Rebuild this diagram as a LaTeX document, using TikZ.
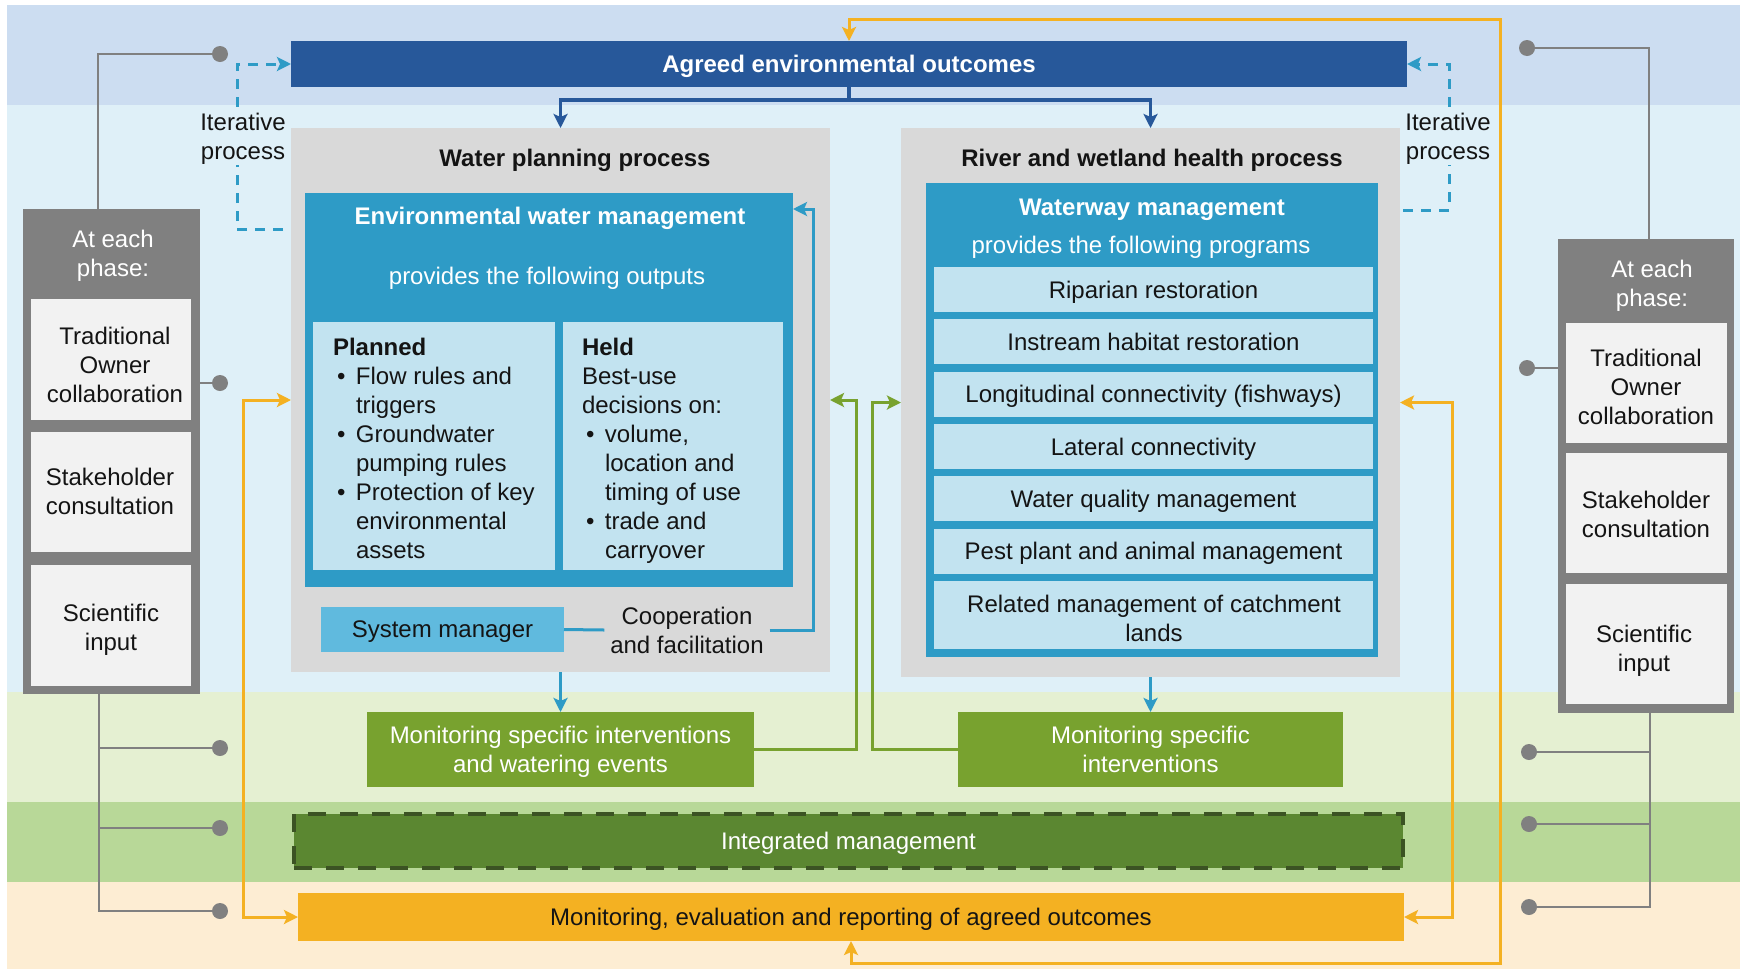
\documentclass[tikz,border=0pt]{standalone}
\usepackage{fontspec}
\setmainfont{Liberation Sans}
\usetikzlibrary{arrows.meta}
\definecolor{bandA}{RGB}{204,221,241}
\definecolor{bandB}{RGB}{223,240,248}
\definecolor{bandC}{RGB}{229,240,210}
\definecolor{bandD}{RGB}{184,216,152}
\definecolor{bandE}{RGB}{253,237,211}
\definecolor{navyb}{RGB}{39,88,154}
\definecolor{tealb}{RGB}{46,155,198}
\definecolor{paleb}{RGB}{194,227,240}
\definecolor{sysb}{RGB}{96,186,222}
\definecolor{lgrayb}{RGB}{217,217,217}
\definecolor{mgrayb}{RGB}{128,128,128}
\definecolor{wgrayb}{RGB}{242,242,242}
\definecolor{orngb}{RGB}{244,177,34}
\definecolor{grnb}{RGB}{120,162,47}
\definecolor{dgrnb}{RGB}{91,135,49}
\definecolor{edgegrn}{RGB}{59,83,35}
\definecolor{ink}{RGB}{20,20,20}
\begin{document}
\begin{tikzpicture}[x=1pt,y=-1pt,
  every node/.style={font=\fontsize{24}{29}\selectfont, text=ink, inner sep=0pt, outer sep=0pt, text depth=0pt},
  bf/.style={font=\fontsize{24}{29}\selectfont\bfseries},
  fillbox/.style={rectangle, align=center},
  navybar/.style={fillbox, fill=navyb, text=white, bf},
  procbox/.style={fillbox, fill=lgrayb},
  tealbox/.style={fillbox, fill=tealb},
  rowbox/.style={fillbox, fill=paleb, minimum width=439pt},
  sysbox/.style={fillbox, fill=sysb},
  phasecol/.style={fillbox, fill=mgrayb},
  phasebox/.style={fillbox, fill=wgrayb, minimum width=160pt, minimum height=120pt},
  greenbox/.style={fillbox, fill=grnb, text=white, minimum height=75pt},
  intbox/.style={fillbox, fill=dgrnb, text=white, draw=edgegrn, line width=4pt, dash pattern=on 18pt off 14pt},
  orbox/.style={fillbox, fill=orngb},
  dot/.style={circle, fill=mgrayb, minimum size=16pt},
  gline/.style={draw=mgrayb, line width=2.5pt},
  tline/.style={draw=tealb, line width=3pt},
  oline/.style={draw=orngb, line width=3pt},
  gnline/.style={draw=grnb, line width=3pt},
  nline/.style={draw=navyb, line width=3.5pt},
  itline/.style={draw=tealb, line width=3pt, dash pattern=on 10pt off 8pt},
  arr/.style={-{Stealth[length=14pt,width=14pt,inset=3pt]}},
  arrs/.style={{Stealth[length=14pt,width=14pt,inset=3pt]}-{Stealth[length=14pt,width=14pt,inset=3pt]}}
]
\useasboundingbox (0,0) rectangle (1740,970);
\fill[white] (0,0) rectangle (1740,970);
% bands
\fill[bandA] (7,5) rectangle (1740,105);
\fill[bandB] (7,105) rectangle (1740,692);
\fill[bandC] (7,692) rectangle (1740,802);
\fill[bandD] (7,802) rectangle (1740,882);
\fill[bandE] (7,882) rectangle (1740,969);

% top bar
\node[navybar, minimum width=1116pt, minimum height=46pt] (top) at (849,64) {Agreed environmental outcomes};

% process boxes
\node[procbox, minimum width=539pt, minimum height=544pt] (wpp) at (560.5,400) {};
\node[bf] (wppT) at (575,158) {Water planning process};
\node[procbox, minimum width=499pt, minimum height=549pt] (rwh) at (1150.5,402.5) {};
\node[bf] (rwhT) at (1152,158) {River and wetland health process};

% environmental water management
\node[tealbox, minimum width=488pt, minimum height=394pt] (ewm) at (549,390) {};
\node[bf, text=white] (ewmT) at (550,216) {Environmental water management};
\node[text=white] (ewmS) at (547,276) {provides the following outputs};
\node[fill=paleb, minimum width=242pt, minimum height=248pt] (pl) at (434,446) {};
\node[fill=paleb, minimum width=220pt, minimum height=248pt] (hd) at (673,446) {};
\node[anchor=north west, align=left] (plT) at (333,338) {\textbf{Planned}\\
\makebox[23pt][l]{\hspace{4pt}\textbullet}Flow rules and\\
\hspace*{23pt}triggers\\
\makebox[23pt][l]{\hspace{4pt}\textbullet}Groundwater\\
\hspace*{23pt}pumping rules\\
\makebox[23pt][l]{\hspace{4pt}\textbullet}Protection of key\\
\hspace*{23pt}environmental\\
\hspace*{23pt}assets};
\node[anchor=north west, align=left] (hdT) at (582,338) {\textbf{Held}\\
Best-use\\
decisions on:\\
\makebox[23pt][l]{\hspace{4pt}\textbullet}volume,\\
\hspace*{23pt}location and\\
\hspace*{23pt}timing of use\\
\makebox[23pt][l]{\hspace{4pt}\textbullet}trade and\\
\hspace*{23pt}carryover};
\node[sysbox, minimum width=243pt, minimum height=45pt] (sys) at (442.5,629.5) {System manager};
\node[align=center, inner xsep=6pt] (coop) at (687,630) {Cooperation\\and facilitation};

% waterway management
\node[tealbox, minimum width=452pt, minimum height=474pt] (wwm) at (1152,420) {};
\node[bf, text=white] (wwmT) at (1152,207) {Waterway management};
\node[text=white] (wwmS) at (1141,245) {provides the following programs};
\node[rowbox, minimum height=45pt] (r1) at (1153.5,289.5) {Riparian restoration};
\node[rowbox, minimum height=45pt] (r2) at (1153.5,341.8) {Instream habitat restoration};
\node[rowbox, minimum height=45pt] (r3) at (1153.5,394.2) {Longitudinal connectivity (fishways)};
\node[rowbox, minimum height=45pt] (r4) at (1153.5,446.5) {Lateral connectivity};
\node[rowbox, minimum height=45pt] (r5) at (1153.5,498.8) {Water quality management};
\node[rowbox, minimum height=45pt] (r6) at (1153.5,551.2) {Pest plant and animal management};
\node[rowbox, minimum height=68pt] (r7) at (1153.5,615) {};
\node[align=center] (r7t) at (1154,618.5) {Related management of catchment\\lands};

% left phase column
\node[phasecol, minimum width=177pt, minimum height=485pt] (lcol) at (111.5,451.5) {};
\node[text=white, align=center] (lhd) at (113,253.5) {At each\\phase:};
\node[phasebox, minimum height=121pt] (lT) at (111,359.5) {};
\node[phasebox] (lS) at (111,492) {};
\node[phasebox, minimum height=121pt] (lSc) at (111,625.5) {};
\node[align=center] (lTt) at (115,365) {Traditional\\Owner\\collaboration};
\node[align=center] (lSt) at (110,491.5) {Stakeholder\\consultation};
\node[align=center] (lSct) at (111,627.5) {Scientific\\input};

% right phase column
\node[phasecol, minimum width=176pt, minimum height=474pt] (rcol) at (1646,476) {};
\node[text=white, align=center] (rhd) at (1652,283) {At each\\phase:};
\node[phasebox, minimum width=161pt] (rT) at (1646.5,383) {};
\node[phasebox, minimum width=161pt] (rS) at (1646.5,513) {};
\node[phasebox, minimum width=161pt] (rSc) at (1646.5,644) {};
\node[align=center] (rTt) at (1646,386.5) {Traditional\\Owner\\collaboration};
\node[align=center] (rSt) at (1646,514) {Stakeholder\\consultation};
\node[align=center] (rSct) at (1644,648.5) {Scientific\\input};

% lower boxes
\node[greenbox, minimum width=387pt] (gL) at (560.5,749.5) {Monitoring specific interventions\\and watering events};
\node[greenbox, minimum width=385pt] (gR) at (1150.5,749.5) {Monitoring specific\\interventions};
\node[intbox, minimum width=1109pt, minimum height=54pt] (int) at (848.5,841) {Integrated management};
\node[orbox, minimum width=1106pt, minimum height=48pt] (obar) at (851,917) {Monitoring, evaluation and reporting of agreed outcomes};

% iterative labels
\node[align=center, inner ysep=6pt] (itL) at (243,136) {Iterative\\process};
\node[align=center, inner ysep=6pt] (itR) at (1448,136) {Iterative\\process};

% dots
\node[dot] (dL1) at (220,54) {};
\node[dot] (dL2) at (220,383) {};
\node[dot] (dL3) at (220,748) {};
\node[dot] (dL4) at (220,828) {};
\node[dot] (dL5) at (220,911) {};
\node[dot] (dR1) at (1527,48) {};
\node[dot] (dR2) at (1527,368) {};
\node[dot] (dR3) at (1529,752) {};
\node[dot] (dR4) at (1529,824) {};
\node[dot] (dR5) at (1529,907) {};

% navy arrows
\coordinate (nj) at (849,100);
\draw[nline, arr] (top.south) -- (nj) -| (wpp.north);
\draw[nline, arr] (nj) -| (rwh.north);

% orange loop
\coordinate (oTR) at (1500,19);
\coordinate (oBR) at (1500,963);
\draw[oline, arrs] (top.north) |- (oTR) -- (oBR) -| (obar.south);
\coordinate (oL) at (243,400);
\draw[oline, arrs] (wpp.west) -- (oL) |- (obar.west);
\coordinate (oR) at (1452,402.5);
\draw[oline, arrs] (rwh.east) -- (oR) |- (obar.east);

% iterative dashed
\coordinate (itLs) at (283,229);
\coordinate (itLc) at (237,229);
\draw[itline] (itLs) -- (itLc) -- (itLc |- itL.south);
\draw[itline, arr] (itLc |- itL.north) |- (top.west);
\coordinate (itRs) at (1403,210);
\coordinate (itRc) at (1449,210);
\draw[itline] (itRs) -- (itRc) -- (itRc |- itR.south);
\draw[itline, arr] (itRc |- itR.north) |- (top.east);

% cooperation
\draw[tline] (sys.east) -- (coop.west);
\coordinate (cR) at (813,630);
\coordinate (cT) at (813,209);
\draw[tline, arr] (coop.east) -- (cR) -- (cT) -- (cT -| ewm.east);

% down arrows to monitoring
\draw[tline, arr] (wpp.south -| gL.north) -- (gL.north);
\draw[tline, arr] (rwh.south -| gR.north) -- (gR.north);

% green feedback
\coordinate (gl) at (856,400);
\draw[gnline, arr] (gL.east) -| (gl) -- (wpp.east);
\coordinate (gr) at (872,402.5);
\draw[gnline, arr] (gR.west) -| (gr) -- (rwh.west);

% gray connectors left
\coordinate (lgt) at (98,209);
\draw[gline] (lgt) |- (dL1);
\draw[gline] (lcol.east |- dL2) -- (dL2);
\coordinate (lgb) at (99,694);
\draw[gline] (lgb) |- (dL5);
\draw[gline] (lgb |- dL3) -- (dL3);
\draw[gline] (lgb |- dL4) -- (dL4);
% gray connectors right
\coordinate (rgt) at (1649,239);
\draw[gline] (rgt) |- (dR1);
\draw[gline] (rcol.west |- dR2) -- (dR2);
\coordinate (rgb) at (1650,713);
\draw[gline] (rgb) |- (dR5);
\draw[gline] (rgb |- dR3) -- (dR3);
\draw[gline] (rgb |- dR4) -- (dR4);
\end{tikzpicture}
\end{document}
